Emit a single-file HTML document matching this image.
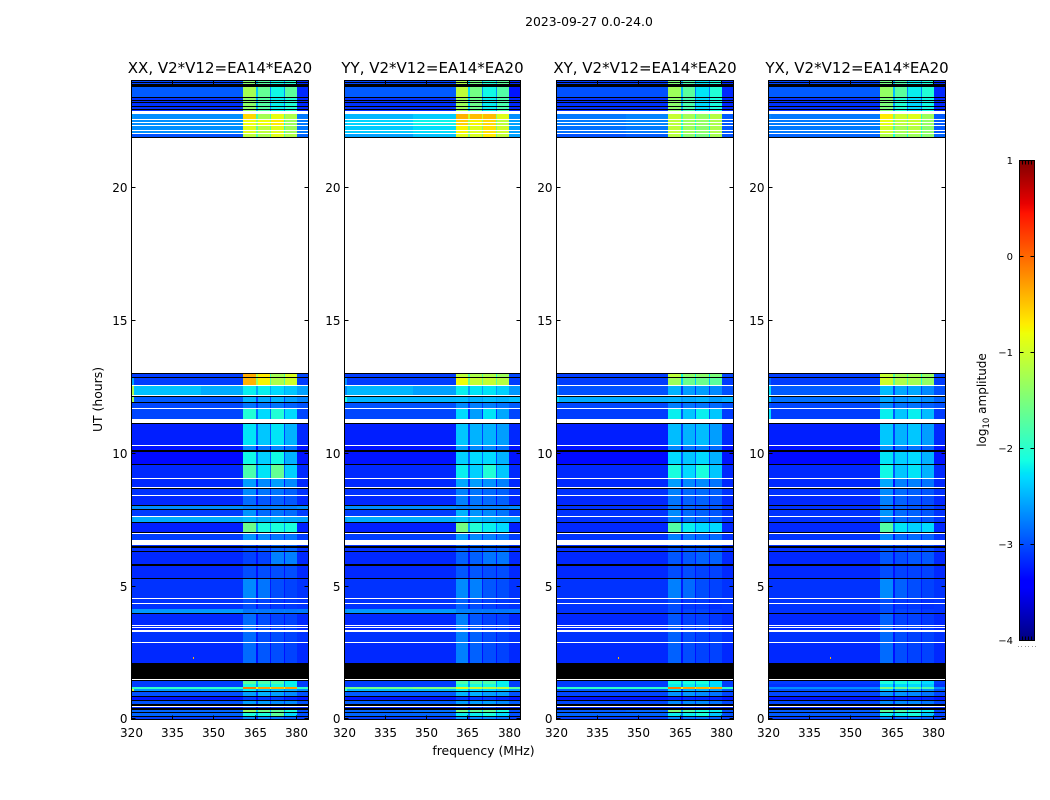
<!DOCTYPE html>
<html lang="en">
<head>
<meta charset="utf-8">
<title>2023-09-27 amplitude waterfall</title>
<style>
html,body{margin:0;padding:0;background:#fff;width:1050px;height:800px;overflow:hidden}
svg{display:block}
text{font-family:"DejaVu Sans","Liberation Sans",sans-serif;fill:#000}
</style>
</head>
<body>
<svg id="chart" width="1050" height="800" viewBox="0 0 1050 800" xmlns="http://www.w3.org/2000/svg">
<text x="589" y="26" font-size="12.4" text-anchor="middle">2023-09-27 0.0-24.0</text>
<text x="483.5" y="755" font-size="12.4" text-anchor="middle">frequency (MHz)</text>
<text transform="translate(102 399.5) rotate(-90)" font-size="12.4" text-anchor="middle">UT (hours)</text>
<text transform="translate(986 400) rotate(-90)" font-size="12" text-anchor="middle">log<tspan font-size="8.5" dy="3">10</tspan><tspan dy="-3"> amplitude</tspan></text>
</svg>
<script>
const svgNS = 'http://www.w3.org/2000/svg';
const chart = document.getElementById('chart');

/* ---------- data ---------- */
const panelNames = ['XX', 'YY', 'XY', 'YX'];
const baselineLabel = 'V2*V12=EA14*EA20';
const xTicks = [320, 335, 350, 365, 380];
const yTicks = [0, 5, 10, 15, 20];
const colorTicks = [-4, -3, -2, -1, 0, 1];
const freqRange = [320, 384];
const utRange = [0, 24];
const colorRange = [-4, 1];
/* frequency bins (MHz): edge, bg-low, bg-high, spw1, gap, spw2, gap, spw3, gap, spw4, right */
const freqEdges = [320, 321, 345, 360.4, 364.9, 365.6, 369.9, 370.5, 375, 375.6, 379.8, 384];
/* UT bin edges (hours) */
const utEdges = [0,.12,.24,.37,.60,.73,.84,1.03,1.16,1.21,1.34,1.50,2.12,2.90,3.32,4.00,4.15,4.56,5.30,5.80,6.31,6.57,6.76,7.04,7.38,7.64,7.89,8.05,8.43,8.71,9.07,9.58,10.08,10.29,11.10,11.28,11.69,11.92,12.16,12.54,12.87,13.00,21.84,22.02,22.29,22.55,22.74,22.85,23.36,23.82,24];

/* log10 amplitude per UT bin: edge, bg-low, bg-high, spw1..spw4, right. null = no data */
const levelsXX = [
[-3.0,-3.0,-3.0,-2.5,-2.5,-2.6,-2.7,-3.0],
[-2.8,-2.8,-2.8,-1.9,-1.9,-1.7,-2.1,-2.9],
[-2.8,-2.8,-2.8,-1.4,-1.6,-1.7,-1.9,-2.9],
[-3.1,-3.1,-3.1,-2.8,-2.8,-2.9,-2.9,-3.1],
[-2.9,-2.9,-2.9,-2.4,-2.4,-2.5,-2.5,-2.9],
[-3.2,-3.2,-3.2,-2.9,-2.9,-2.9,-3.0,-3.2],
[-2.9,-2.9,-2.9,-2.4,-2.3,-2.4,-2.5,-2.9],
[-1.0,-2.55,-2.5,-2.0,-2.2,-2.2,-2.3,-2.6],
[-1.9,-1.9,-1.9,-0.1,-0.3,-0.4,-0.3,-1.9],
[-3.0,-3.0,-3.0,-1.9,-1.9,-1.9,-2.0,-3.0],
[-3.0,-3.0,-3.0,-1.7,-1.8,-1.8,-2.0,-3.0],
[-3.1,-3.1,-3.1,-3.0,-3.0,-3.0,-3.0,-3.1],
[-3.1,-3.1,-3.1,-2.65,-2.75,-2.8,-2.85,-3.1],
[-3.05,-3.05,-3.05,-2.65,-2.8,-2.8,-2.85,-3.05],
[-3.1,-3.1,-3.1,-2.65,-2.8,-2.85,-2.85,-3.1],
[-2.6,-2.55,-2.55,-2.6,-2.6,-2.6,-2.6,-2.7],
[-3.05,-3.05,-3.05,-2.8,-2.85,-2.9,-2.9,-3.05],
[-3.05,-3.05,-3.05,-2.5,-2.6,-2.8,-2.85,-3.05],
[-3.1,-3.1,-3.1,-2.8,-2.8,-2.8,-2.8,-3.1],
[-3.1,-3.1,-3.1,-2.85,-2.85,-2.55,-2.55,-3.1],
[-3.05,-3.05,-3.05,-2.8,-2.75,-2.7,-2.7,-3.05],
null,
[-3.0,-3.0,-3.0,-2.45,-2.5,-2.6,-2.6,-3.0],
[-3.15,-3.15,-3.15,-1.6,-1.9,-1.9,-1.9,-3.15],
[-2.5,-2.45,-2.45,-2.25,-2.3,-2.3,-2.35,-2.5],
[-3.0,-3.0,-3.0,-2.45,-2.65,-2.6,-2.65,-3.0],
[-2.6,-2.6,-2.6,-2.55,-2.55,-2.55,-2.55,-2.6],
[-3.1,-3.1,-3.1,-2.65,-2.75,-2.7,-2.75,-3.1],
[-3.05,-3.05,-3.05,-2.5,-2.6,-2.6,-2.7,-3.05],
[-3.1,-3.1,-3.1,-2.4,-2.5,-2.4,-2.5,-3.1],
[-3.1,-3.1,-3.1,-1.8,-2.05,-1.65,-2.15,-3.1],
[-3.25,-3.25,-3.25,-1.95,-2.15,-1.95,-2.3,-3.2],
[-3.2,-3.2,-3.2,-2.5,-2.6,-2.5,-2.6,-3.2],
[-3.15,-3.15,-3.15,-2.05,-2.2,-2.05,-2.3,-3.1],
null,
[-2.95,-2.95,-2.95,-1.85,-2.1,-1.85,-2.1,-2.95],
[-2.95,-2.95,-2.95,-2.6,-2.6,-2.6,-2.7,-2.9],
[-1.3,-2.85,-2.85,-2.3,-2.35,-2.3,-2.4,-2.65],
[-1.2,-2.35,-2.45,-2.0,-2.0,-2.1,-2.2,-2.5],
[-2.5,-3.0,-3.0,-0.4,-0.75,-1.2,-1.0,-3.0],
[-3.0,-3.0,-3.0,-0.35,-0.7,-1.25,-0.95,-2.95],
null,
[-2.9,-2.9,-2.9,-1.1,-1.2,-0.9,-1.2,-2.8],
[-2.6,-2.6,-2.6,-0.9,-1.1,-0.9,-1.3,-2.7],
[-2.6,-2.6,-2.6,-0.8,-0.8,-0.7,-1.3,-2.7],
[-2.55,-2.6,-2.6,-0.6,-1.25,-0.85,-1.2,-2.7],
null,
[-3.05,-3.05,-3.05,-1.4,-1.75,-2.0,-1.85,-3.1],
[-2.85,-2.85,-2.85,-1.25,-1.65,-1.95,-1.7,-3.1],
[-2.95,-2.95,-2.95,-1.45,-1.75,-1.95,-1.85,-3.1]
];
const levelsYY = [
[-3.0,-3.0,-3.0,-2.4,-2.5,-2.5,-2.6,-3.0],
[-2.8,-2.8,-2.8,-2.0,-2.0,-1.9,-2.1,-2.9],
[-2.8,-2.8,-2.75,-1.6,-1.7,-1.7,-1.9,-2.9],
[-3.1,-3.1,-3.1,-2.8,-2.8,-2.8,-2.9,-3.1],
[-2.85,-2.85,-2.85,-2.4,-2.4,-2.4,-2.5,-2.85],
[-3.2,-3.2,-3.2,-2.9,-2.9,-2.9,-3.0,-3.2],
[-2.85,-2.85,-2.85,-2.3,-2.3,-2.4,-2.4,-2.9],
[-2.0,-2.4,-2.4,-2.0,-2.1,-2.1,-2.2,-2.5],
[-1.5,-1.6,-1.5,-0.9,-1.0,-1.1,-1.1,-1.7],
[-3.0,-3.0,-3.0,-1.9,-1.9,-1.9,-2.0,-3.0],
[-3.0,-3.0,-3.0,-1.8,-1.8,-1.8,-2.0,-3.0],
[-3.1,-3.1,-3.1,-3.0,-3.0,-3.0,-3.0,-3.1],
[-3.1,-3.1,-3.1,-2.55,-2.7,-2.8,-2.85,-3.1],
[-3.05,-3.05,-3.05,-2.55,-2.7,-2.8,-2.85,-3.05],
[-3.1,-3.1,-3.1,-2.55,-2.75,-2.85,-2.85,-3.1],
[-2.6,-2.55,-2.55,-2.55,-2.6,-2.6,-2.6,-2.7],
[-3.05,-3.05,-3.05,-2.7,-2.8,-2.85,-2.9,-3.05],
[-3.05,-3.05,-3.05,-2.5,-2.55,-2.75,-2.8,-3.05],
[-3.1,-3.1,-3.1,-2.75,-2.75,-2.8,-2.8,-3.1],
[-3.1,-3.1,-3.1,-2.7,-2.7,-2.6,-2.6,-3.1],
[-3.05,-3.05,-3.05,-2.7,-2.7,-2.7,-2.7,-3.05],
null,
[-3.0,-3.0,-3.0,-2.4,-2.5,-2.55,-2.6,-3.0],
[-3.15,-3.15,-3.15,-1.55,-1.85,-2.0,-2.1,-3.15],
[-2.5,-2.45,-2.45,-2.2,-2.25,-2.3,-2.35,-2.5],
[-3.0,-3.0,-3.0,-2.3,-2.45,-2.5,-2.6,-3.0],
[-2.6,-2.6,-2.6,-2.55,-2.55,-2.55,-2.55,-2.6],
[-3.1,-3.1,-3.1,-2.55,-2.6,-2.65,-2.7,-3.1],
[-3.05,-3.05,-3.05,-2.55,-2.6,-2.65,-2.7,-3.05],
[-3.1,-3.1,-3.1,-2.35,-2.4,-2.45,-2.55,-3.1],
[-3.1,-3.1,-3.1,-2.0,-2.15,-1.85,-2.2,-3.1],
[-3.2,-3.2,-3.2,-2.15,-2.1,-2.1,-2.3,-3.2],
[-3.2,-3.2,-3.2,-2.4,-2.5,-2.5,-2.6,-3.2],
[-3.15,-3.15,-3.15,-2.2,-2.3,-2.3,-2.4,-3.1],
null,
[-2.95,-2.95,-2.95,-2.1,-2.4,-2.05,-2.35,-2.95],
[-2.9,-2.9,-2.9,-2.5,-2.55,-2.55,-2.6,-2.85],
[-2.0,-2.4,-2.4,-2.25,-2.3,-2.25,-2.3,-2.35],
[-2.6,-2.4,-2.5,-2.0,-2.05,-2.05,-2.15,-2.55],
[-2.6,-3.0,-3.0,-0.8,-1.05,-1.05,-1.15,-3.0],
[-3.0,-3.0,-3.0,-1.1,-1.2,-1.2,-1.3,-2.95],
null,
[-2.5,-2.5,-2.35,-0.9,-0.95,-0.7,-1.1,-2.5],
[-2.3,-2.3,-2.2,-0.75,-0.9,-0.65,-1.0,-2.5],
[-2.35,-2.25,-2.1,-0.55,-0.75,-0.6,-1.1,-2.5],
[-2.4,-2.4,-2.3,-0.4,-0.45,-0.45,-0.9,-2.6],
null,
[-3.05,-3.05,-3.05,-1.3,-1.6,-2.0,-1.8,-3.1],
[-2.85,-2.85,-2.85,-1.1,-1.55,-1.95,-1.75,-3.2],
[-2.95,-2.95,-2.95,-1.2,-1.55,-1.85,-1.7,-3.1]
];
const levelsXY = [
[-3.0,-3.0,-3.0,-2.5,-2.6,-2.6,-2.7,-3.0],
[-2.8,-2.8,-2.8,-2.0,-2.0,-1.9,-2.2,-2.9],
[-2.85,-2.85,-2.8,-1.5,-1.8,-1.9,-2.0,-2.9],
[-3.1,-3.1,-3.1,-2.9,-2.9,-2.9,-2.9,-3.1],
[-2.95,-2.95,-2.95,-2.5,-2.5,-2.5,-2.6,-2.95],
[-3.2,-3.2,-3.2,-3.0,-3.0,-3.0,-3.0,-3.2],
[-2.95,-2.95,-2.95,-2.45,-2.45,-2.5,-2.6,-2.95],
[-2.9,-2.85,-2.85,-2.1,-2.3,-2.3,-2.4,-2.85],
[-1.9,-1.9,-1.9,-0.1,-0.3,-0.4,-0.3,-1.9],
[-3.0,-3.0,-3.0,-2.0,-2.0,-2.0,-2.1,-3.0],
[-3.0,-3.0,-3.0,-1.9,-1.9,-1.9,-2.1,-3.0],
[-3.1,-3.1,-3.1,-3.0,-3.0,-3.0,-3.0,-3.1],
[-3.1,-3.1,-3.1,-2.7,-2.8,-2.85,-2.85,-3.1],
[-3.05,-3.05,-3.05,-2.7,-2.8,-2.85,-2.85,-3.05],
[-3.1,-3.1,-3.1,-2.75,-2.85,-2.85,-2.9,-3.1],
[-3.05,-3.05,-3.05,-2.8,-2.85,-2.85,-2.9,-3.05],
[-3.05,-3.05,-3.05,-2.8,-2.9,-2.9,-2.95,-3.05],
[-3.05,-3.05,-3.05,-2.55,-2.65,-2.8,-2.85,-3.05],
[-3.1,-3.1,-3.1,-2.8,-2.8,-2.85,-2.85,-3.1],
[-3.1,-3.1,-3.1,-2.75,-2.75,-2.7,-2.7,-3.1],
[-3.05,-3.05,-3.05,-2.75,-2.75,-2.75,-2.75,-3.05],
null,
[-3.05,-3.05,-3.05,-2.55,-2.6,-2.65,-2.65,-3.05],
[-3.1,-3.1,-3.1,-1.75,-2.0,-2.1,-2.1,-3.1],
[-3.05,-3.05,-3.05,-2.55,-2.6,-2.65,-2.7,-3.05],
[-3.05,-3.05,-3.05,-2.5,-2.65,-2.7,-2.75,-3.05],
[-3.05,-3.05,-3.05,-2.6,-2.7,-2.75,-2.75,-3.05],
[-3.1,-3.1,-3.1,-2.6,-2.7,-2.7,-2.75,-3.1],
[-3.05,-3.05,-3.05,-2.55,-2.65,-2.65,-2.7,-3.05],
[-3.1,-3.1,-3.1,-2.4,-2.5,-2.5,-2.6,-3.1],
[-3.1,-3.1,-3.1,-1.9,-2.1,-1.9,-2.2,-3.1],
[-3.25,-3.25,-3.25,-2.1,-2.2,-2.1,-2.3,-3.2],
[-3.2,-3.2,-3.2,-2.5,-2.6,-2.55,-2.65,-3.2],
[-3.15,-3.15,-3.15,-2.25,-2.3,-2.25,-2.4,-3.1],
null,
[-3.0,-3.0,-3.0,-2.0,-2.2,-2.0,-2.2,-3.0],
[-2.95,-2.95,-2.95,-2.55,-2.6,-2.6,-2.65,-2.9],
[-2.2,-2.45,-2.45,-2.3,-2.35,-2.3,-2.4,-2.45],
[-2.7,-2.9,-2.9,-2.3,-2.4,-2.4,-2.5,-2.9],
[-2.9,-3.0,-3.0,-1.3,-1.6,-1.6,-1.7,-3.0],
[-3.0,-3.0,-3.0,-1.1,-1.4,-1.4,-1.5,-2.95],
null,
[-2.9,-2.9,-2.85,-1.15,-1.4,-1.5,-1.25,-2.9],
[-2.75,-2.75,-2.7,-1.1,-1.3,-1.4,-1.2,-2.85],
[-2.7,-2.7,-2.65,-1.1,-1.3,-1.35,-1.2,-2.85],
[-2.7,-2.7,-2.65,-1.05,-1.25,-1.35,-1.15,-2.85],
null,
[-3.05,-3.05,-3.05,-1.4,-1.8,-2.1,-1.9,-3.1],
[-2.9,-2.9,-2.9,-1.3,-1.7,-2.05,-1.85,-3.1],
[-3.0,-3.0,-3.0,-1.5,-1.8,-2.05,-1.9,-3.1]
];
const levelsYX = [
[-3.0,-3.0,-3.0,-2.5,-2.6,-2.6,-2.7,-3.0],
[-2.85,-2.85,-2.85,-2.0,-2.0,-1.9,-2.2,-2.95],
[-2.85,-2.85,-2.85,-1.7,-1.8,-1.85,-2.0,-2.95],
[-3.1,-3.1,-3.1,-2.9,-2.9,-2.9,-2.9,-3.1],
[-2.95,-2.95,-2.95,-2.5,-2.5,-2.5,-2.6,-2.95],
[-3.2,-3.2,-3.2,-3.0,-3.0,-3.0,-3.0,-3.2],
[-2.95,-2.95,-2.95,-2.45,-2.45,-2.5,-2.6,-2.95],
[-2.9,-2.9,-2.9,-2.2,-2.35,-2.35,-2.45,-2.9],
[-2.6,-2.6,-2.6,-1.5,-1.6,-1.7,-1.8,-2.6],
[-3.05,-3.05,-3.05,-2.1,-2.1,-2.1,-2.2,-3.05],
[-3.0,-3.0,-3.0,-1.9,-1.9,-1.95,-2.1,-3.0],
[-3.1,-3.1,-3.1,-3.0,-3.0,-3.0,-3.0,-3.1],
[-3.1,-3.1,-3.1,-2.65,-2.8,-2.85,-2.85,-3.1],
[-3.05,-3.05,-3.05,-2.65,-2.8,-2.85,-2.85,-3.05],
[-3.1,-3.1,-3.1,-2.7,-2.85,-2.85,-2.9,-3.1],
[-3.05,-3.05,-3.05,-2.8,-2.85,-2.85,-2.9,-3.05],
[-3.05,-3.05,-3.05,-2.8,-2.9,-2.9,-2.95,-3.05],
[-3.05,-3.05,-3.05,-2.5,-2.7,-2.8,-2.85,-3.05],
[-3.1,-3.1,-3.1,-2.8,-2.85,-2.85,-2.85,-3.1],
[-3.1,-3.1,-3.1,-2.75,-2.8,-2.75,-2.75,-3.1],
[-3.05,-3.05,-3.05,-2.75,-2.8,-2.8,-2.8,-3.05],
null,
[-3.05,-3.05,-3.05,-2.5,-2.65,-2.65,-2.7,-3.05],
[-3.1,-3.1,-3.1,-1.75,-2.05,-2.15,-2.1,-3.1],
[-3.05,-3.05,-3.05,-2.55,-2.65,-2.7,-2.75,-3.05],
[-3.05,-3.05,-3.05,-2.45,-2.65,-2.7,-2.75,-3.05],
[-3.05,-3.05,-3.05,-2.6,-2.7,-2.75,-2.8,-3.05],
[-3.1,-3.1,-3.1,-2.55,-2.7,-2.75,-2.8,-3.1],
[-3.05,-3.05,-3.05,-2.5,-2.65,-2.7,-2.75,-3.05],
[-3.1,-3.1,-3.1,-2.35,-2.55,-2.55,-2.6,-3.1],
[-3.1,-3.1,-3.1,-1.95,-2.2,-2.05,-2.3,-3.1],
[-3.25,-3.25,-3.25,-2.05,-2.15,-2.1,-2.3,-3.2],
[-3.2,-3.2,-3.2,-2.45,-2.6,-2.6,-2.7,-3.2],
[-3.15,-3.15,-3.15,-2.2,-2.3,-2.2,-2.4,-3.1],
null,
[-2.2,-3.0,-3.0,-2.0,-2.2,-2.0,-2.25,-3.0],
[-2.9,-2.95,-2.95,-2.5,-2.6,-2.6,-2.7,-2.9],
[-2.3,-2.75,-2.75,-2.35,-2.45,-2.4,-2.5,-2.8],
[-2.2,-2.85,-2.85,-2.25,-2.35,-2.35,-2.5,-2.9],
[-2.8,-3.0,-3.0,-1.0,-1.2,-1.25,-1.35,-3.0],
[-3.0,-3.0,-3.0,-1.05,-1.25,-1.25,-1.35,-2.95],
null,
[-2.8,-2.8,-2.8,-1.2,-1.35,-1.3,-1.4,-2.8],
[-2.7,-2.7,-2.7,-1.0,-1.25,-1.15,-1.4,-2.85],
[-2.7,-2.7,-2.7,-0.85,-1.1,-1.05,-1.35,-2.85],
[-2.65,-2.7,-2.7,-0.7,-1.0,-0.9,-1.3,-2.85],
null,
[-3.05,-3.05,-3.05,-1.5,-1.85,-2.1,-1.95,-3.1],
[-2.85,-2.85,-2.85,-1.35,-1.7,-2.0,-1.85,-3.1],
[-2.95,-2.95,-2.95,-1.55,-1.8,-2.0,-1.9,-3.1]
];
const panelLevels = [levelsXX, levelsYY, levelsXY, levelsYX];

/* UT ranges (hours) with no data, shown white */
const noDataStart = [.46,1.50,2.89,3.29,3.43,3.51,4.53,4.35,6.98,7.40,7.61,8.42,8.65,8.70,9.05,10.11,10.27,11.68,12.17,12.55,22.01,22.10,22.28,22.42,22.54];
const noDataEnd   = [.49,1.53,2.92,3.36,3.46,3.54,4.56,4.38,7.01,7.43,7.64,8.45,8.68,8.73,9.08,10.14,10.30,11.71,12.20,12.58,22.04,22.13,22.31,22.45,22.57];
/* UT ranges (hours) flagged to zero, shown black */
const flagStart = [.09,.23,.36,.50,.72,.85,1.05,1.46,1.53,3.98,5.27,5.76,6.29,6.46,7.02,7.37,7.87,8.04,8.68,9.57,10.06,11.08,11.91,12.13,12.85,12.97,21.83,22.88,22.99,23.14,23.22,23.35,23.75,23.81,23.92];
const flagEnd   = [.13,.27,.42,.60,.75,.89,1.08,1.49,2.12,4.01,5.33,5.84,6.33,6.50,7.05,7.40,7.91,8.07,8.71,9.61,10.12,11.12,11.94,12.16,12.88,13.00,21.87,22.92,23.03,23.18,23.26,23.39,23.79,23.85,23.96];
/* isolated RFI spikes */
const spikeFreq  = [342.4, 342.4, 342.4];
const spikeUT    = [2.35, 2.35, 2.35];
const spikeLevel = [-0.4, -0.4, -0.4];
const spikePanel = [0, 2, 3];
/* colorbar minor tick fractions across the bar width */
const barMinorFractions = [.2, .4, .6, .8];
/* colorbar stray dots under the bar, fractions across the bar width */
const barDotFractions = [-.1, .12, .35, .58, .8, 1.03];

/* ---------- layout ---------- */
const plotLeft  = [131.5, 344.5, 556.5, 768.5];
const plotRight = [308.5, 520.5, 733.5, 945.5];
const plotTop = 80.5, plotBottom = 719.5;
const barX0 = 1019.5, barX1 = 1034.5, barTop = 160.5, barBottom = 640.5;
/* the reference is speckled; flat cells shown at its darker perceived mean */
const bgMeanShift = -0.08, spwMeanShift = -0.2;

/* ---------- helpers ---------- */
function mk(tag, attrs, parent) {
  const el = document.createElementNS(svgNS, tag);
  for (const k in attrs) el.setAttribute(k, attrs[k]);
  (parent || chart).appendChild(el);
  return el;
}
function lerpTable(t, tbl) {
  for (let i = 1; i < tbl.length; i++) {
    if (t <= tbl[i][0]) {
      const a = tbl[i-1], b = tbl[i];
      return a[1] + (b[1]-a[1]) * (t-a[0]) / (b[0]-a[0]);
    }
  }
  return tbl[tbl.length-1][1];
}
const jetR = [[0,0],[.35,0],[.66,1],[.89,1],[1,.5]];
const jetG = [[0,0],[.125,0],[.375,1],[.64,1],[.91,0],[1,0]];
const jetB = [[0,.5],[.11,1],[.34,1],[.65,0],[1,0]];
function colorOf(v) {
  const t = Math.max(0, Math.min(1, (v - colorRange[0]) / (colorRange[1] - colorRange[0])));
  const c = tbl => Math.round(lerpTable(t, tbl) * 255);
  return 'rgb(' + c(jetR) + ',' + c(jetG) + ',' + c(jetB) + ')';
}
function xScale(p, f) {
  return plotLeft[p] + (f - freqRange[0]) / (freqRange[1] - freqRange[0]) * (plotRight[p] - plotLeft[p]);
}
function yScale(u) {
  return plotBottom - (u - utRange[0]) / (utRange[1] - utRange[0]) * (plotBottom - plotTop);
}
function shifted(v, isSpw) {
  if (v >= -1.8) return v;
  return v + (isSpw ? spwMeanShift : bgMeanShift);
}
function cellLevel(row, c) {
  /* bin order: edge,bg-low,bg-high,spw1,gap,spw2,gap,spw3,gap,spw4,right */
  const map = {0:0, 1:1, 2:2, 3:3, 5:4, 7:5, 9:6, 10:7};
  if (c in map) return shifted(row[map[c]], c >= 3 && c <= 9);
  const left = row[map[c-1]], right = row[map[c+1]];
  return shifted(Math.max(row[1], Math.min(left, right) - 0.55), true);
}
function hBand(p, group, s, e, fill, name) {
  const y0 = Math.round(yScale(e)), y1 = Math.round(yScale(s));
  const el = mk('rect', {x: plotLeft[p], y: y0, width: plotRight[p]-plotLeft[p], height: Math.max(1, y1-y0), fill: fill}, group);
  
  
}

/* ---------- panels ---------- */
panelNames.forEach((pol, p) => {
  const panel = mk('g', {});
  
  

  const hm = mk('g', {'shape-rendering': 'crispEdges'}, panel);
  
  

  panelLevels[p].forEach((row, r) => {
    if (!row) return;
    const y0 = Math.round(yScale(utEdges[r+1])), y1 = Math.round(yScale(utEdges[r]));
    for (let c = 0; c < freqEdges.length - 1; c++) {
      const x0 = Math.round(xScale(p, freqEdges[c])), x1 = Math.round(xScale(p, freqEdges[c+1]));
      const cell = mk('rect', {x: x0, y: y0, width: Math.max(1, x1-x0), height: Math.max(1, y1-y0), fill: colorOf(cellLevel(row, c))}, hm);
      
      
    }
  });

  noDataStart.forEach((s, i) => hBand(p, hm, s, noDataEnd[i], '#fff', 'no-data-band'));
  flagStart.forEach((s, i) => hBand(p, hm, s, flagEnd[i], '#000', 'flagged-band'));

  spikePanel.forEach((sp, i) => {
    if (sp !== p) return;
    const dot = mk('rect', {x: Math.round(xScale(p, spikeFreq[i])), y: Math.round(yScale(spikeUT[i])), width: 1, height: 2, fill: colorOf(spikeLevel[i])}, hm);
    
    
  });

  const title = mk('text', {x: (plotLeft[p]+plotRight[p])/2, y: 73, 'font-size': 15, 'text-anchor': 'middle'}, panel);
  title.textContent = pol + ', ' + baselineLabel;
  
  

  const frame = mk('rect', {x: plotLeft[p], y: plotTop, width: plotRight[p]-plotLeft[p], height: plotBottom-plotTop, fill: 'none', stroke: '#000', 'stroke-width': 1}, panel);
  
  

  xTicks.forEach(f => {
    const x = Math.round(xScale(p, f)) - .5;
    const t1 = mk('line', {x1: x, x2: x, y1: plotBottom, y2: plotBottom-4, stroke: '#000'}, panel);
    
    
    const t2 = mk('line', {x1: x, x2: x, y1: plotTop, y2: plotTop+4, stroke: '#000'}, panel);
    
    
    const lab = mk('text', {x: x, y: 737, 'font-size': 12, 'text-anchor': 'middle'}, panel);
    lab.textContent = f;
    
    
  });

  yTicks.forEach(u => {
    const y = Math.floor(yScale(u)) + .5 - (u === 0 ? 1 : 0);
    const t1 = mk('line', {x1: plotLeft[p], x2: plotLeft[p]+4, y1: y, y2: y, stroke: '#000'}, panel);
    
    
    const t2 = mk('line', {x1: plotRight[p], x2: plotRight[p]-4, y1: y, y2: y, stroke: '#000'}, panel);
    
    
    const lab = mk('text', {x: plotLeft[p]-4, y: y+4.5, 'font-size': 12, 'text-anchor': 'end'}, panel);
    lab.textContent = u;
    
    
  });
});

/* ---------- colorbar ---------- */
const cb = mk('g', {'shape-rendering': 'crispEdges'});


const barScale = v => barBottom - (v - colorRange[0]) / (colorRange[1] - colorRange[0]) * (barBottom - barTop);
for (let py = Math.floor(barTop); py < barBottom; py++) {
  const v = colorRange[0] + (barBottom - py - .5) / (barBottom - barTop) * (colorRange[1] - colorRange[0]);
  const step = mk('rect', {x: barX0, y: py, width: barX1-barX0, height: 1, fill: colorOf(v)}, cb);
  
  
}
const cbFrame = mk('rect', {x: barX0, y: barTop, width: barX1-barX0, height: barBottom-barTop, fill: 'none', stroke: '#000'}, cb);


barMinorFractions.forEach(f => {
  const x = barX0 + f * (barX1 - barX0);
  const top = mk('line', {x1: x, x2: x, y1: barTop, y2: barTop+4, stroke: '#000'}, cb);
  
  
  const bot = mk('line', {x1: x, x2: x, y1: barBottom, y2: barBottom-4, stroke: '#000'}, cb);
  
  
});
barDotFractions.forEach(f => {
  const d = mk('rect', {x: Math.round(barX0 + f * (barX1 - barX0)), y: 646, width: 1, height: 1, fill: '#999'}, cb);
  
  
});
colorTicks.forEach(v => {
  const y = Math.round(barScale(v)) - .5;
  const a = mk('line', {x1: barX0, x2: barX0+4, y1: y, y2: y, stroke: '#000'}, cb);
  
  
  const b = mk('line', {x1: barX1-4, x2: barX1, y1: y, y2: y, stroke: '#000'}, cb);
  
  
  const lab = mk('text', {x: 1013, y: y+3.5, 'font-size': 10, 'text-anchor': 'end'}, cb);
  lab.textContent = (v < 0 ? '\u2212' + Math.abs(v) : String(v));
  
  
});
</script>
</body>
</html>
